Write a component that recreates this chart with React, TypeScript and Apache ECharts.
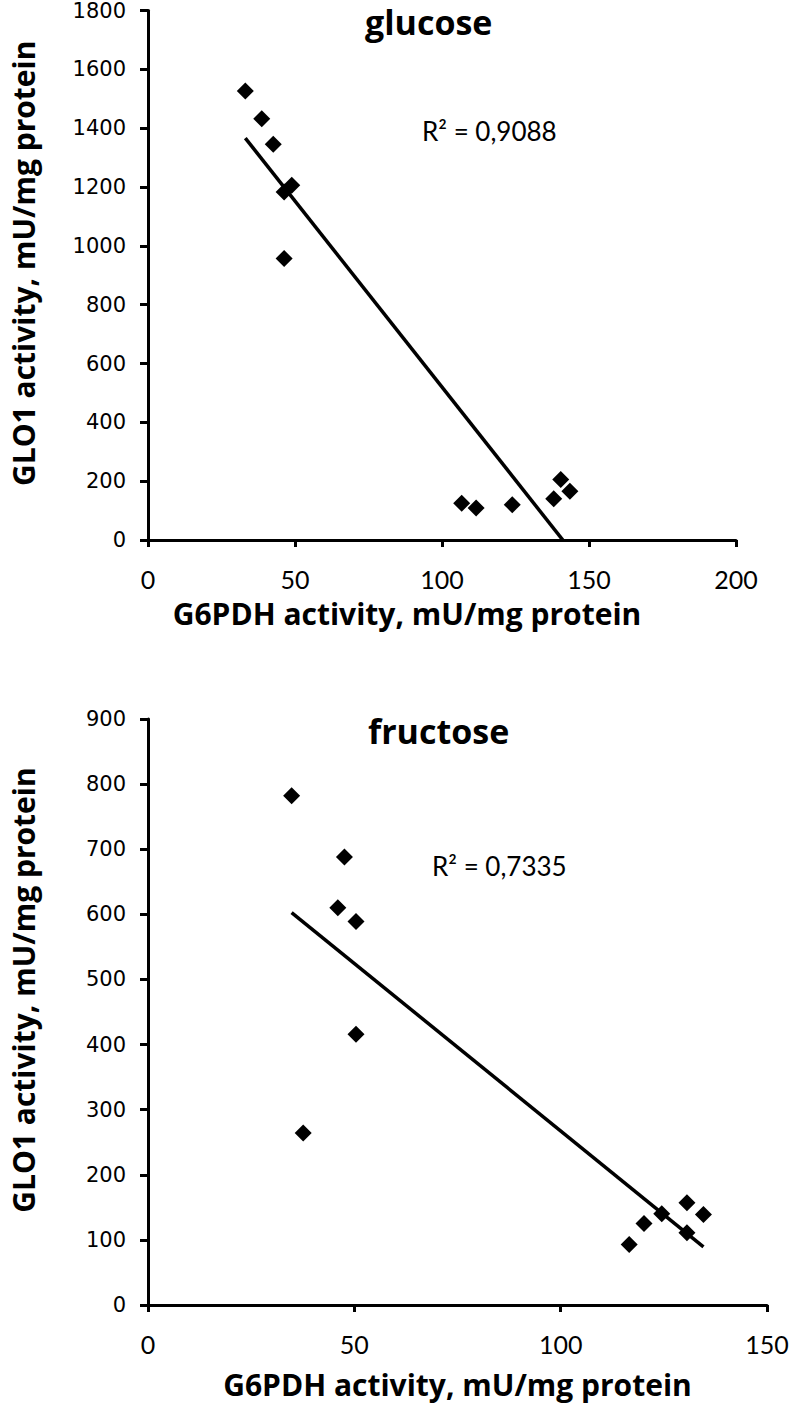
import React, { useEffect, useRef } from "react";
import * as echarts from "echarts";

// ---- data ----
const glucoseX = [33.1, 38.7, 42.6, 48.9, 46.3, 46.3, 106.7, 111.6, 123.9, 138, 140.4, 143.5];
const glucoseY = [1526, 1432, 1345, 1206, 1183, 957, 125, 109, 120, 140, 206, 166];
const fructoseX = [34.8, 47.6, 46, 50.4, 50.4, 37.6, 116.6, 120.2, 124.5, 130.6, 134.6, 130.6];
const fructoseY = [782, 688, 610, 589, 416, 264, 93, 125, 140, 157, 139, 111];

const glucoseTitle = "glucose";
const fructoseTitle = "fructose";
const glucoseR2 = "R² = 0,9088";
const fructoseR2 = "R² = 0,7335";
const xTitle = "G6PDH activity, mU/mg protein";
const yTitle = "GLO1 activity, mU/mg protein";

const glucoseXTicks = { min: 0, max: 200, interval: 50 };
const glucoseYTicks = { min: 0, max: 1800, interval: 200 };
const fructoseXTicks = { min: 0, max: 150, interval: 50 };
const fructoseYTicks = { min: 0, max: 900, interval: 100 };

function zip(xs: number[], ys: number[]) {
  return xs.map((x, i) => [x, ys[i]]);
}

function trend(xs: number[], ys: number[]) {
  const n = xs.length;
  const mx = xs.reduce((a, b) => a + b, 0) / n;
  const my = ys.reduce((a, b) => a + b, 0) / n;
  let sxx = 0, sxy = 0;
  for (let i = 0; i < n; i++) {
    sxx += (xs[i] - mx) ** 2;
    sxy += (xs[i] - mx) * (ys[i] - my);
  }
  const b = sxy / sxx;
  const a = my - b * mx;
  const x0 = Math.min(...xs);
  const x1 = Math.max(...xs);
  return [[x0, a + b * x0], [x1, a + b * x1]];
}

const CAL = "Lato, 'Open Sans', sans-serif";
const CALB = "'Open Sans', Lato, sans-serif";
const VER = "'DejaVu Sans', Verdana, sans-serif";

function xAxis(gridIndex: number, t: { min: number; max: number; interval: number }, padRight: number, gap: number) {
  return {
    type: "value",
    gridIndex,
    min: t.min,
    max: t.max,
    interval: t.interval,
    name: xTitle,
    nameLocation: "middle",
    nameGap: gap,
    nameTextStyle: {
      fontFamily: CALB, fontWeight: "bold", fontSize: 30, lineHeight: 30, color: "#000",
      padding: [0, padRight, 0, 0],
    },
    axisLine: { show: true, onZero: false, lineStyle: { color: "#000", width: 3 } },
    axisTick: { show: true, inside: false, length: 7, lineStyle: { color: "#000", width: 3 } },
    axisLabel: {
      fontFamily: CAL, fontSize: 25, lineHeight: 20, color: "#000", margin: 29,
      formatter: (v: number) => String(v),
    },
    splitLine: { show: false },
  };
}

function yAxis(gridIndex: number, t: { min: number; max: number; interval: number }, padLeft: number) {
  return {
    type: "value",
    gridIndex,
    min: t.min,
    max: t.max,
    interval: t.interval,
    name: yTitle,
    nameLocation: "middle",
    nameGap: 110,
    nameTextStyle: {
      fontFamily: CALB, fontWeight: "bold", fontSize: 30, color: "#000",
      padding: [0, 0, 0, padLeft],
    },
    axisLine: { show: true, onZero: false, lineStyle: { color: "#000", width: 3 } },
    axisTick: { show: true, inside: false, length: 8, lineStyle: { color: "#000", width: 3 } },
    axisLabel: { fontFamily: VER, fontSize: 21, color: "#000", margin: 22, formatter: (v: number) => String(v) },
    splitLine: { show: false },
  };
}

export default function App() {
  const ref = useRef<HTMLDivElement>(null);
  useEffect(() => {
    if (!ref.current) return;
    const chart = echarts.init(ref.current, null, { renderer: "svg" });
    chart.setOption({
      animation: false,
      backgroundColor: "#fff",
      title: [
        { text: glucoseTitle, left: 360, top: 0, textStyle: { fontFamily: CALB, fontWeight: "bold", fontSize: 34, color: "#000" } },
        { text: fructoseTitle, left: 363, top: 709, textStyle: { fontFamily: CALB, fontWeight: "bold", fontSize: 34, color: "#000" } },
      ],
      grid: [
        { left: 148, top: 10, width: 588, height: 530 },
        { left: 148, top: 719, width: 619, height: 586 },
      ],
      xAxis: [xAxis(0, glucoseXTicks, 70, 58), xAxis(1, fructoseXTicks, 0, 64)],
      yAxis: [yAxis(0, glucoseYTicks, 24), yAxis(1, fructoseYTicks, 44)],
      series: [
        {
          type: "scatter",
          xAxisIndex: 0,
          yAxisIndex: 0,
          symbol: "diamond",
          symbolSize: 17,
          itemStyle: { color: "#000", opacity: 1 },
          data: zip(glucoseX, glucoseY),
        },
        {
          type: "line",
          xAxisIndex: 0,
          yAxisIndex: 0,
          symbol: "none",
          clip: true,
          lineStyle: { color: "#000", width: 3.5 },
          data: trend(glucoseX, glucoseY),
        },
        {
          type: "scatter",
          xAxisIndex: 1,
          yAxisIndex: 1,
          symbol: "diamond",
          symbolSize: 17,
          itemStyle: { color: "#000", opacity: 1 },
          data: zip(fructoseX, fructoseY),
        },
        {
          type: "line",
          xAxisIndex: 1,
          yAxisIndex: 1,
          symbol: "none",
          clip: true,
          lineStyle: { color: "#000", width: 3.5 },
          data: trend(fructoseX, fructoseY),
        },
      ],
      graphic: [
        { type: "text", left: 422, top: 118, style: { text: glucoseR2, fontFamily: CAL, fontSize: 26, fill: "#000" } },
        { type: "text", left: 432, top: 853, style: { text: fructoseR2, fontFamily: CAL, fontSize: 26, fill: "#000" } },
      ],
    });
    return () => chart.dispose();
  }, []);
  return (
    <div
      ref={ref}
      style={{ position: "fixed", left: 0, top: 0, width: 792, height: 1406, background: "#fff" }}
    />
  );
}
